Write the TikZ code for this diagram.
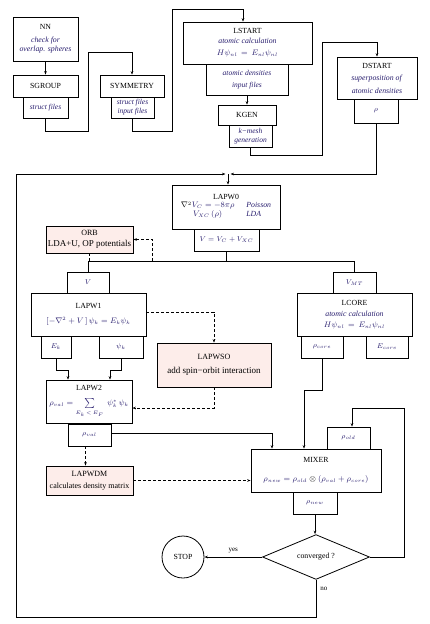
\documentclass[tikz,border=0pt]{standalone}
\usepackage{fontspec}
\setmainfont{Liberation Serif}
\usetikzlibrary{arrows.meta,shapes.geometric}
\definecolor{pinkfill}{RGB}{253,237,234}
\definecolor{ink}{RGB}{40,30,110}
\newcommand\inktxt[1]{\textcolor{ink}{\textit{#1}}}
\newcommand\inkm[1]{\textcolor{ink}{$#1$}}
\begin{document}
\begin{tikzpicture}[x=1pt,y=-1pt,
  line width=0.8pt,
  every node/.style={inner sep=0pt, align=center},
  box/.style={draw, rectangle, font=\fontsize{7.8}{9}\selectfont},
  sub/.style={draw, rectangle, font=\fontsize{7.5}{9}\selectfont\itshape, text=ink},
  pinkbox/.style={draw, rectangle, fill=pinkfill, font=\fontsize{9}{11}\selectfont},
  arr/.style={-{Stealth[length=3.5pt,width=2.6pt]}},
  dsh/.style={dash pattern=on 3pt off 2pt},
]
\useasboundingbox (0,0) rectangle (430,624);
% ---------------- initialisation chain
\node[box, minimum width=65pt, minimum height=44pt] (nn) at (45.5,39)
  {NN\\[4pt]\inktxt{check for}\\\inktxt{overlap. spheres}};
\node[box, minimum width=65pt, minimum height=22pt] (sgroup) at (45.5,86) {SGROUP};
\node[sub, minimum width=45pt, minimum height=21pt] (sgf) at (45.5,107.5) {struct files};
\node[box, minimum width=64pt, minimum height=22pt] (sym) at (132,86) {SYMMETRY};
\node[sub, minimum width=43pt, minimum height=21pt] (symf) at (132.5,107.5) {struct files\\input files};
\node[box, minimum width=129pt, minimum height=42pt] (lstart) at (247.5,43)
  {LSTART\\[1pt]\inktxt{atomic calculation}\\[3pt]\inkm{H\psi_{nl} \,=\, E_{nl}\psi_{nl}}};
\node[sub, minimum width=82pt, minimum height=31pt] (lstf) at (247,79.5) {atomic densities\\[3pt]input files};
\node[box, minimum width=58pt, minimum height=20pt] (kgen) at (247,115) {KGEN};
\node[sub, minimum width=43pt, minimum height=22pt] (kgf) at (250.5,136) {k−mesh\\generation};
\node[box, minimum width=80pt, minimum height=42pt] (dstart) at (377,78)
  {DSTART\\[3pt]\inktxt{superposition of}\\[4pt]\inktxt{atomic densities}};
\node[sub, minimum width=44pt, minimum height=24pt] (dsf) at (376,111) {$\rho$};
% ---------------- SCF cycle
\node[box, minimum width=108pt, minimum height=44pt] (lapw0) at (226,207)
  {LAPW0\\[1pt]
   \begin{tabular}{@{}c@{\hspace{12pt}}l@{}}
   $\nabla^2$\inkm{V_C = -8\pi\rho} & \inktxt{Poisson}\\[0pt]
   \inkm{V_{XC}\,(\rho)} & \inktxt{LDA}
   \end{tabular}};
\node[sub, minimum width=65pt, minimum height=22pt] (lapw0f) at (226.5,240) {$V = V_C + V_{XC}$};
\node[pinkbox, minimum width=87pt, minimum height=27pt] (orb) at (89.5,239.5)
  {{\fontsize{8}{9}\selectfont ORB}\\LDA+U, OP potentials};
\node[sub, minimum width=42pt, minimum height=21pt] (vbox) at (88,282.5) {$V$};
\node[box, minimum width=115pt, minimum height=43pt] (lapw1) at (88.5,314.5)
  {LAPW1\\[6pt]\inkm{\left[-\nabla^2 + V\,\right]\psi_k = E_k\psi_k}};
\node[sub, minimum width=30pt, minimum height=22pt] (ek) at (56,347) {$E_k$};
\node[sub, minimum width=44pt, minimum height=22pt] (psik) at (121,347) {$\psi_k$};
\node[box, minimum width=86pt, minimum height=43pt] (lapw2) at (89,401.5)
  {LAPW2\\[6pt]\inkm{\rho_{val} = \sum\limits_{E_k\, <\, E_F}\;\psi_k^*\,\psi_k}};
\node[sub, minimum width=43pt, minimum height=22pt] (rhoval) at (89.5,435) {$\rho_{val}$};
\node[pinkbox, minimum width=114pt, minimum height=44pt] (lapwso) at (214,365)
  {{\fontsize{8}{9}\selectfont LAPWSO}\\[3pt]add spin−orbit interaction};
\node[sub, minimum width=43pt, minimum height=21pt] (vmt) at (354.5,282.5) {$V_{MT}$};
\node[box, minimum width=115pt, minimum height=43pt] (lcore) at (354.5,314.5)
  {LCORE\\[2pt]\inktxt{atomic calculation}\\[2pt]\inkm{H\psi_{nl} \,=\, E_{nl}\psi_{nl}}};
\node[sub, minimum width=42pt, minimum height=22pt] (rhocore) at (322,347) {$\rho_{core}$};
\node[sub, minimum width=42pt, minimum height=22pt] (ecore) at (387,347) {$E_{core}$};
\node[sub, minimum width=43pt, minimum height=22pt] (rhoold) at (348.5,438) {$\rho_{old}$};
\node[box, minimum width=130pt, minimum height=43pt] (mixer) at (316,470.5)
  {MIXER\\[10pt]\inkm{\rho_{new} = \rho_{old}}\;$\otimes$\;\inkm{(\rho_{val} + \rho_{core})}};
\node[sub, minimum width=44pt, minimum height=22pt] (rhonew) at (315,503) {$\rho_{new}$};
\node[pinkbox, minimum width=87pt, minimum height=29pt, font=\fontsize{8}{10}\selectfont] (lapwdm) at (89.5,480.5)
  {LAPWDM\\[2pt]calculates density matrix};
\node[draw, diamond, minimum width=107pt, minimum height=41pt, font=\fontsize{7.8}{9}\selectfont] (dia) at (316,557) {converged ?};
\node[draw, circle, minimum size=42pt, font=\fontsize{7.8}{9}\selectfont] (stop) at (183,557) {STOP};
\coordinate (jn) at (228,174);
% ---------------- connectors
\draw[arr] (nn.south) -- (sgroup.north);
\draw[arr] (sgf.south) |- (88,131) -- (88,52) -| (sym.north);
\draw[arr] (symf.south) |- (172,131) -- (172,9) -| ([xshift=-4.5pt]lstart.north);
\draw[arr] (lstf.south) -- (kgen.north);
\draw[arr] (kgf.south) |- (322,155) -- (322,42) -| (dstart.north);
\draw[arr] (dsf.south) |- ([xshift=2.5pt]jn);
\draw[arr] (dia.south) |- (16,617) -- (16,174) -- ([xshift=-2.5pt]jn);
\draw[arr] (jn) -- (jn |- lapw0.north);
\draw (lapw0f.south) -- (lapw0f.south |- 0,261);
\draw (vbox.north) -- (vbox.north |- 0,261) -| (vmt.north);
\draw[dsh] (orb.south) -- (orb.south |- 0,261);
\draw[dsh,arr] (152,261) |- (orb.east);
\draw[dsh,arr] ([yshift=2.5pt]lapw1.east) -| (lapwso.north);
\draw[arr] (ek.south) -- ++(0,12) -| ([xshift=-21pt]lapw2.north);
\draw[arr] (psik.south) -- ++(0,12) -| ([xshift=21pt]lapw2.north);
\draw[dsh,arr] (lapwso.south) |- (lapw2.east |- 0,408);
\draw[arr] ([yshift=2pt]rhoval.east) -| ([xshift=-44pt]mixer.north);
\draw[arr] (rhocore.south) -- ++(0,32) -| ([xshift=-12pt]mixer.north);
\draw[arr] (dia.east) -| (404,408) -| ([xshift=3.5pt]rhoold.north);
\draw[arr] (rhonew.south) -- (rhonew.south |- dia.north);
\draw[arr] (dia.west) -- (stop.east) node[midway, above=4pt, font=\fontsize{7}{8}\selectfont] {yes};
\node[font=\fontsize{7}{8}\selectfont, anchor=west] (nolab) at (320,589) {no};
\draw[dsh,arr] ([xshift=-4pt]rhoval.south) -- ([xshift=-4pt]lapwdm.north);
\draw[dsh,arr] (lapwdm.east) -- (mixer.west |- lapwdm.east);
\end{tikzpicture}
\end{document}
